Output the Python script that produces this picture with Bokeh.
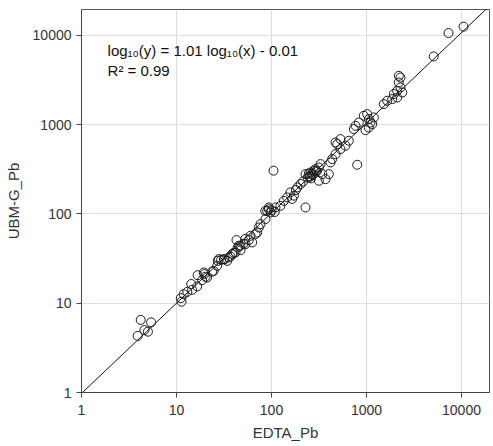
import numpy as np
from bokeh.plotting import figure
from bokeh.models import Range1d, FixedTicker, PrintfTickFormatter, Label
from bokeh.embed import file_html
from bokeh.resources import INLINE

# EDTA-extractable Pb (x) vs UBM-G bioaccessible Pb (y)
edta_pb = [
    3.9, 4.2, 4.6, 5.0, 5.4,
    11.1, 11.3, 11.9, 13.0, 14.3, 14.6, 16.5, 16.7, 18.6, 19.7, 21, 23.7, 24.6, 27.2, 29.5,
    32, 34.2, 37, 40, 42.8, 44, 47, 53, 50.6,
    19.4, 20.2, 26.8, 27.9, 31.5, 35.5, 38.6, 41.8, 45.3, 47.2, 53.2, 57.7, 60.1, 62.6, 67.9,
    70.7, 73.5, 76.6, 86.4, 90.1, 93.7,
    93.7, 97.6, 86, 110, 124, 146, 158, 172, 165, 187, 202, 228, 247, 257, 279, 290, 315, 328,
    342, 370, 401, 418, 435, 472, 492, 532, 601, 651, 315, 228, 105,
    472, 532, 735, 766, 830, 937, 1016, 1058, 1102, 1194, 1148, 1058, 975, 1521, 1651, 1866,
    1938, 2102, 2279, 2188, 2279, 2188, 2102, 2377, 798,
    5100, 7300, 10500,
    240, 255, 265, 270, 300, 295, 260, 250, 100, 108, 135, 180, 215,
]
ubm_g_pb = [
    4.3, 6.5, 5.0, 4.8, 6.1,
    11.4, 10.4, 12.6, 13.4, 16.4, 14.1, 15.4, 20.6, 18.1, 21.2, 19.4, 22.6, 23, 29.8, 30.6,
    30.9, 29.8, 33.4, 36.6, 50.9, 42, 44, 52.6, 46.2,
    22.1, 19.8, 26.2, 31.2, 31.2, 32.5, 35.5, 37, 44, 39.3, 45.9, 50.9, 56.9, 47.9, 59.4,
    61.9, 70.4, 76.9, 87.5, 108, 118,
    113, 104, 108, 118, 123, 153, 174, 160, 147, 198, 216, 279, 283, 291, 304, 318, 331, 361,
    279, 245, 279, 377, 411, 467, 605, 532, 580, 659, 235, 118, 305,
    631, 688, 891, 970, 1055, 1256, 1312, 1153, 1055, 1202, 1013, 927, 867, 1697, 1849, 1932,
    2197, 2390, 2602, 2958, 3367, 3516, 2011, 2291, 355,
    5800, 10600, 12500,
    255, 262, 280, 272, 300, 305, 250, 262, 110, 105, 140, 185, 230,
]
assert len(edta_pb) == len(ubm_g_pb)

# regression: log10(y) = slope * log10(x) + intercept
slope = 1.01
intercept = -0.01
r2 = 0.99

tick_values = [1, 10, 100, 1000, 10000]
x_lim = (1, 19700)
y_lim = (1, 19450)

FONT = "Liberation Sans"
TXT = "#333333"

p = figure(width=493, height=446, x_axis_type="log", y_axis_type="log",
           x_range=Range1d(*x_lim), y_range=Range1d(*y_lim),
           output_backend="svg", toolbar_location=None,
           min_border_left=81, min_border_right=4, min_border_top=9, min_border_bottom=54)

p.outline_line_color = "#555555"
p.outline_line_width = 1
p.background_fill_color = "white"
p.border_fill_color = "white"

for ax in (p.xaxis[0], p.yaxis[0]):
    ax.ticker = FixedTicker(ticks=tick_values)
    ax.formatter = PrintfTickFormatter(format="%d")
    ax.major_label_text_font = FONT
    ax.major_label_text_font_size = "14px"
    ax.major_label_text_color = TXT
    ax.axis_label_text_font = FONT
    ax.axis_label_text_font_size = "15px"
    ax.axis_label_text_font_style = "normal"
    ax.axis_label_text_color = TXT
    ax.axis_line_color = "#444444"
    ax.major_tick_line_color = "#444444"
    ax.major_tick_in = 0
    ax.major_tick_out = 5
    ax.minor_tick_line_color = None

p.xaxis.axis_label = "EDTA_Pb"
p.yaxis.axis_label = "UBM-G_Pb"
p.xaxis.major_label_standoff = 7
p.xaxis.axis_label_standoff = 6
p.yaxis.major_label_standoff = 5
p.yaxis.axis_label_standoff = 8

p.xgrid.ticker = FixedTicker(ticks=tick_values)
p.ygrid.ticker = FixedTicker(ticks=tick_values)
p.grid.grid_line_color = "#e3dada"
p.grid.grid_line_width = 1

# regression line
lx = np.array([x_lim[0], x_lim[1]], dtype=float)
ly = 10 ** (slope * np.log10(lx) + intercept)
p.line(lx, ly, line_color="#111111", line_width=1)

# points
p.scatter(edta_pb, ubm_g_pb, marker="circle", size=9, fill_alpha=0,
          line_color="#1a1a1a", line_width=1)

eq = f"log\u2081\u2080(y) = {slope:.2f} log\u2081\u2080(x) - {abs(intercept):.2f}"
p.add_layout(Label(x=1.88, y=6700, text=eq, text_font=FONT, text_font_size="15px",
                   text_color="#111111", text_baseline="middle"))
p.add_layout(Label(x=1.88, y=4000, text=f"R\u00b2 = {r2:.2f}", text_font=FONT,
                   text_font_size="15px", text_color="#111111", text_baseline="middle"))

open("out.html", "w").write(file_html(p, INLINE))
